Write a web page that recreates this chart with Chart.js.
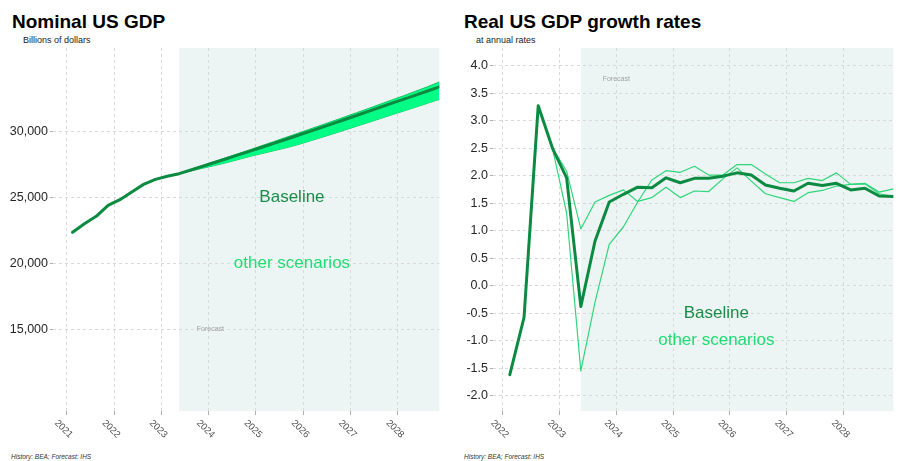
<!DOCTYPE html>
<html><head><meta charset="utf-8">
<script src="https://cdn.jsdelivr.net/npm/chart.js@4/dist/chart.umd.min.js"></script>
<style>
html,body{margin:0;padding:0;background:#fff;width:904px;height:461px;overflow:hidden;font-family:"Liberation Sans",Arial,sans-serif;}
.t{position:absolute;white-space:nowrap;line-height:1;}
canvas{position:absolute;top:0;}
</style></head><body>
<div class="t" style="left:12px;top:12px;font-size:19px;font-weight:bold;color:#000;">Nominal US GDP</div>
<div class="t" style="left:23px;top:36px;font-size:9px;color:#222;">Billions of dollars</div>
<div class="t" style="left:464px;top:12px;font-size:19px;font-weight:bold;color:#000;">Real US GDP growth rates</div>
<div class="t" style="left:476px;top:36px;font-size:9px;color:#222;">at annual rates</div>
<div class="t" style="left:11px;top:454px;font-size:6.5px;font-style:italic;color:#333;">History: BEA; Forecast: IHS</div>
<div class="t" style="left:464px;top:454px;font-size:6.5px;font-style:italic;color:#333;">History: BEA; Forecast: IHS</div>
<canvas id="c1" width="452" height="461" style="left:0;"></canvas>
<canvas id="c2" width="452" height="461" style="left:452px;"></canvas>
<script>
// ---------- DATA ----------
const nominalQuarters = ["2021Q1","2021Q2","2021Q3","2021Q4","2022Q1","2022Q2","2022Q3","2022Q4",
  "2023Q1","2023Q2","2023Q3","2023Q4","2024Q1","2024Q2","2024Q3","2024Q4",
  "2025Q1","2025Q2","2025Q3","2025Q4","2026Q1","2026Q2","2026Q3","2026Q4",
  "2027Q1","2027Q2","2027Q3","2027Q4","2028Q1","2028Q2","2028Q3","2028Q4"];
const nominalHistory = [22350,23000,23560,24390,24820,25400,25980,26360,26590,26790];
// forecast from 2023Q2 to 2028Q4
const nominalBaseline = [26790,27070,27352,27636,27922,28210,28500,28792,29086,29382,29680,29980,
  30282,30586,30892,31200,31510,31822,32136,32440,32745,33055,33365];
const nominalUpper = [26790,27110,27410,27710,28010,28310,28610,28915,29220,29530,29840,30150,
  30460,30775,31090,31410,31730,32055,32380,32700,33040,33380,33740];
const nominalLower = [26790,27000,27202,27406,27622,27860,28100,28312,28526,28742,28980,29250,
  29527,29806,30092,30380,30670,30962,31256,31540,31830,32125,32420];
const nominalYTicks = [15000,20000,25000,30000];
const nominalYearTicks = [2021,2022,2023,2024,2025,2026,2027,2028];

const growthQuarters = ["2022Q1","2022Q2","2022Q3","2022Q4","2023Q1","2023Q2","2023Q3","2023Q4",
  "2024Q1","2024Q2","2024Q3","2024Q4","2025Q1","2025Q2","2025Q3","2025Q4",
  "2026Q1","2026Q2","2026Q3","2026Q4","2027Q1","2027Q2","2027Q3","2027Q4",
  "2028Q1","2028Q2","2028Q3","2028Q4"];
const growthBaseline = [-1.62,-0.58,3.27,2.50,1.96,-0.38,0.81,1.52,1.66,1.79,1.78,1.96,1.87,1.95,1.95,1.99,
  2.05,2.01,1.83,1.77,1.72,1.86,1.82,1.86,1.74,1.77,1.63,1.62];
const growthScenarioA = [null,null,null,2.50,2.08,1.03,1.52,1.64,1.74,1.53,1.60,1.79,1.60,1.72,1.71,1.94,
  2.14,1.90,1.67,1.60,1.53,1.69,1.73,1.81,1.84,1.85,1.67,1.62];
const growthScenarioB = [null,null,null,2.50,1.32,-1.55,-0.30,0.75,1.07,1.52,1.92,2.09,2.06,2.17,2.01,2.01,
  2.20,2.20,2.03,1.87,1.87,1.95,1.91,2.05,1.84,1.86,1.70,1.76];
const growthYTicks = [-2.0,-1.5,-1.0,-0.5,0.0,0.5,1.0,1.5,2.0,2.5,3.0,3.5,4.0];
const growthYearTicks = [2022,2023,2024,2025,2026,2027,2028];

const forecastStartQuarter = "2023Q2";

// ---------- HELPERS ----------
const FONT = '"Liberation Sans", Arial, sans-serif';
const C_BASE = '#0b8a42', C_SCEN = '#2fd67a', C_BAND = '#00ff84', C_BANDEDGE = '#16c262';
const C_SHADE = '#ecf5f3', C_GRID = '#d9d9d9';
function qToYear(q){ return parseInt(q.slice(0,4)) + (parseInt(q.slice(5))-1)/4 + 0.125; }
function pts(quarters, values, offset){
  const out=[]; values.forEach((v,i)=>{ if(v!==null) out.push({x:qToYear(quarters[i+(offset||0)]), y:v}); }); return out; }

function decor(opts){
  return {
    id:'decor',
    beforeDraw(chart){
      const {ctx, chartArea:a, scales:{x}} = chart;
      const x0 = x.getPixelForValue(qToYear(forecastStartQuarter));
      ctx.save(); ctx.fillStyle = C_SHADE; ctx.fillRect(x0, a.top, a.right-x0, a.bottom-a.top); ctx.restore();
    },
    afterDraw(chart){
      const {ctx, scales:{x,y}} = chart;
      ctx.save();
      ctx.fillStyle = '#4d4d4d'; ctx.font = '9.5px '+FONT;
      ctx.textAlign='center'; ctx.textBaseline='middle';
      opts.yearTicks.forEach(v=>{
        const px = x.getPixelForValue(v);
        ctx.save(); ctx.translate(px-3, 429); ctx.rotate(Math.PI/4); ctx.fillText(String(v),0,0); ctx.restore();
      });
      ctx.fillStyle='#a0a0a0'; ctx.font='7px '+FONT; ctx.textAlign='left';
      ctx.fillText('Forecast', x.getPixelForValue(opts.fcX), y.getPixelForValue(opts.fcY));
      ctx.textAlign='center'; ctx.font='17px '+FONT;
      ctx.fillStyle='#1a8c4a';
      ctx.fillText('Baseline', x.getPixelForValue(opts.blX), y.getPixelForValue(opts.blY));
      ctx.fillStyle='#1fdc73';
      ctx.fillText('other scenarios', x.getPixelForValue(opts.blX), y.getPixelForValue(opts.osY));
      ctx.restore();
    }
  };
}

function scalesCfg(xmin,xmax,ymin,ymax,yTicks,yearTicks,yWidth,fmt){
  return {
    x:{type:'linear',min:xmin,max:xmax,
      afterBuildTicks:s=>{s.ticks=yearTicks.map(v=>({value:v}));},
      afterFit:s=>{s.height=50;},
      ticks:{display:false},
      grid:{color:C_GRID,tickColor:'#b0b0b0',tickLength:4,lineWidth:1},
      border:{display:false,dash:[3,3]}},
    y:{type:'linear',min:ymin,max:ymax,
      afterBuildTicks:s=>{s.ticks=yTicks.map(v=>({value:v}));},
      afterFit:s=>{s.width=yWidth;},
      ticks:{autoSkip:false,padding:2,color:'#262626',font:{family:FONT,size:12.5},callback:fmt},
      grid:{color:C_GRID,tickColor:'#b0b0b0',tickLength:3,lineWidth:1},
      border:{display:false,dash:[3,3]}}
  };
}

// ---------- LEFT CHART ----------
const nomFcStart = nominalHistory.length-1;
const baseAll = nominalHistory.concat(nominalBaseline.slice(1));
new Chart(document.getElementById('c1'),{
  type:'line',
  data:{datasets:[
    {data:pts(nominalQuarters,baseAll),borderColor:C_BASE,borderWidth:3,pointRadius:0,fill:false},
    {data:pts(nominalQuarters,nominalUpper,nomFcStart),borderColor:C_BANDEDGE,borderWidth:1,pointRadius:0,fill:'+1',backgroundColor:C_BAND},
    {data:pts(nominalQuarters,nominalLower,nomFcStart),borderColor:C_BANDEDGE,borderWidth:1,pointRadius:0,fill:false}
  ]},
  options:{responsive:false,animation:false,devicePixelRatio:1,
    layout:{padding:{top:48,right:12.6,left:0,bottom:0}},
    plugins:{legend:{display:false},tooltip:{enabled:false}},
    elements:{line:{tension:0,borderJoinStyle:'round',borderCapStyle:'round'}},
    scales:scalesCfg(2020.711,2028.875,8811,36311,nominalYTicks,nominalYearTicks,53,v=>v.toLocaleString('en-US'))
  },
  plugins:[decor({yearTicks:nominalYearTicks,fcX:2023.75,fcY:15000,blX:2025.76,blY:25000,osY:20000})]
});

// ---------- RIGHT CHART ----------
new Chart(document.getElementById('c2'),{
  type:'line',
  data:{datasets:[
    {data:pts(growthQuarters,growthBaseline),borderColor:C_BASE,borderWidth:3,pointRadius:0,fill:false},
    {data:pts(growthQuarters,growthScenarioA),borderColor:C_SCEN,borderWidth:1.2,pointRadius:0,fill:false},
    {data:pts(growthQuarters,growthScenarioB),borderColor:C_SCEN,borderWidth:1.2,pointRadius:0,fill:false}
  ]},
  options:{responsive:false,animation:false,devicePixelRatio:1,
    layout:{padding:{top:48,right:10.7,left:0,bottom:0}},
    plugins:{legend:{display:false},tooltip:{enabled:false}},
    elements:{line:{tension:0,borderJoinStyle:'round',borderCapStyle:'round'}},
    scales:scalesCfg(2021.829,2028.875,-2.28,4.32,growthYTicks,growthYearTicks,41,v=>v.toFixed(1))
  },
  plugins:[decor({yearTicks:growthYearTicks,fcX:2023.76,fcY:3.75,blX:2025.76,blY:-0.5,osY:-1.0})]
});
</script>
</body></html>
